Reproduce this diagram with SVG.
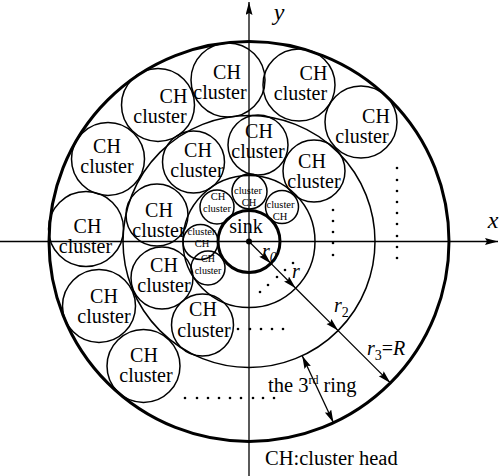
<svg xmlns="http://www.w3.org/2000/svg" width="500" height="476" viewBox="0 0 500 476">
<style>
.bg{fill:#fff}
.ring{fill:none;stroke:#000;stroke-width:1.5}
.thick{fill:none;stroke:#000;stroke-width:3}
.cl{fill:none;stroke:#000;stroke-width:1.5}
.ax{stroke:#000;stroke-width:1.3;fill:none}
.ln{stroke:#000;stroke-width:1.3;fill:none}
text{font-family:"Liberation Serif","Times New Roman",serif;fill:#000;text-anchor:middle}
.t{font-size:20px}
.s{font-size:10.5px}
.xs{font-size:10px}
.it{font-style:italic}
.dot{fill:#000}
</style>
<defs>
<marker id="ah" markerUnits="userSpaceOnUse" markerWidth="14" markerHeight="8" refX="13" refY="3.5" orient="auto-start-reverse">
<path d="M0,0 L13,3.5 L0,7 L2,3.5 z" fill="#000"/>
</marker>
</defs>
<rect class="bg" x="0" y="0" width="500" height="476"/>

<g id="rings">
<circle class="thick" cx="249" cy="241.5" r="200"/>
<circle class="ring" cx="249" cy="241.5" r="126"/>
<circle class="ring" cx="249" cy="241.5" r="66"/>
</g>

<g id="sink">
<circle class="thick" cx="249" cy="241.5" r="31"/>
<circle class="dot" cx="249" cy="241.5" r="3"/>
<text class="t" x="246" y="233">sink</text>
</g>

<g id="n1"><circle class="cl" cx="228" cy="80" r="37"/><text class="t" x="227" y="79">CH</text><text class="t" x="220" y="99">cluster</text></g>
<g id="n2"><circle class="cl" cx="299" cy="85" r="36"/><text class="t" x="313.5" y="80">CH</text><text class="t" x="300.5" y="100">cluster</text></g>
<g id="n3"><circle class="cl" cx="361" cy="122" r="36"/><text class="t" x="376" y="123">CH</text><text class="t" x="362" y="143">cluster</text></g>
<g id="n4"><circle class="cl" cx="158" cy="105" r="36.5"/><text class="t" x="173.5" y="103">CH</text><text class="t" x="160" y="123">cluster</text></g>
<g id="n5"><circle class="cl" cx="108" cy="159" r="36.5"/><text class="t" x="107" y="153">CH</text><text class="t" x="107" y="173">cluster</text></g>
<g id="n6"><circle class="cl" cx="86" cy="229" r="37.5"/><text class="t" x="87.5" y="233">CH</text><text class="t" x="85.5" y="253">cluster</text></g>
<g id="n7"><circle class="cl" cx="99" cy="306" r="36.5"/><text class="t" x="104" y="303">CH</text><text class="t" x="104" y="323">cluster</text></g>
<g id="n8"><circle class="cl" cx="143.5" cy="366" r="36.5"/><text class="t" x="144" y="362">CH</text><text class="t" x="146" y="382">cluster</text></g>

<g id="n9"><circle class="cl" cx="258" cy="145" r="30"/><text class="t" x="259" y="138">CH</text><text class="t" x="258" y="158">cluster</text></g>
<g id="n10"><circle class="cl" cx="314" cy="171" r="31"/><text class="t" x="312" y="168">CH</text><text class="t" x="314" y="188">cluster</text></g>
<g id="n11"><circle class="cl" cx="193.5" cy="162" r="31"/><text class="t" x="198" y="157">CH</text><text class="t" x="197" y="177">cluster</text></g>
<g id="n12"><circle class="cl" cx="157" cy="215" r="31"/><text class="t" x="159" y="217">CH</text><text class="t" x="159" y="237">cluster</text></g>
<g id="n13"><circle class="cl" cx="162" cy="278" r="31"/><text class="t" x="164" y="272">CH</text><text class="t" x="164" y="292">cluster</text></g>
<g id="n14"><circle class="cl" cx="202.5" cy="325" r="31"/><text class="t" x="203" y="316">CH</text><text class="t" x="204" y="337">cluster</text></g>

<g id="n15"><circle class="cl" cx="249.5" cy="191.5" r="17.5"/><text class="s" x="248" y="194">cluster</text><text class="s" x="249" y="206">CH</text></g>
<g id="n16"><circle class="cl" cx="282" cy="207" r="16.5"/><text class="s" x="280.5" y="208">cluster</text><text class="s" x="280" y="220">CH</text></g>
<g id="n17"><circle class="cl" cx="217" cy="207" r="17"/><text class="s" x="218" y="200">CH</text><text class="s" x="217" y="212">cluster</text></g>
<g id="n18"><circle class="cl" cx="200.5" cy="242" r="17.5"/><text class="s" x="201.5" y="235">cluster</text><text class="s" x="202" y="247">CH</text></g>
<g id="n19"><circle class="cl" cx="208" cy="268" r="17"/><text class="xs" x="208" y="262">CH</text><text class="xs" x="208" y="274">cluster</text></g>

<g id="dots">
<circle class="dot" cx="397" cy="168" r="1.3"/><circle class="dot" cx="397" cy="180" r="1.3"/><circle class="dot" cx="397" cy="191" r="1.3"/><circle class="dot" cx="397" cy="202" r="1.3"/><circle class="dot" cx="397" cy="213" r="1.3"/><circle class="dot" cx="397" cy="224" r="1.3"/><circle class="dot" cx="397" cy="236" r="1.3"/><circle class="dot" cx="397" cy="247" r="1.3"/><circle class="dot" cx="397" cy="258" r="1.3"/>
<circle class="dot" cx="333" cy="210" r="1.3"/><circle class="dot" cx="333" cy="221" r="1.3"/><circle class="dot" cx="333" cy="232" r="1.3"/><circle class="dot" cx="333" cy="243" r="1.3"/><circle class="dot" cx="333" cy="255" r="1.3"/>
<circle class="dot" cx="293" cy="263" r="1.3"/><circle class="dot" cx="285" cy="270" r="1.3"/><circle class="dot" cx="277" cy="277" r="1.3"/><circle class="dot" cx="268" cy="285" r="1.3"/><circle class="dot" cx="260" cy="292" r="1.3"/>
<circle class="dot" cx="238" cy="329" r="1.3"/><circle class="dot" cx="250" cy="329" r="1.3"/><circle class="dot" cx="261" cy="329" r="1.3"/><circle class="dot" cx="272" cy="329" r="1.3"/><circle class="dot" cx="283" cy="329" r="1.3"/>
<circle class="dot" cx="185" cy="398" r="1.3"/><circle class="dot" cx="197" cy="398" r="1.3"/><circle class="dot" cx="208" cy="398" r="1.3"/><circle class="dot" cx="219" cy="398" r="1.3"/><circle class="dot" cx="230" cy="398" r="1.3"/><circle class="dot" cx="241" cy="398" r="1.3"/><circle class="dot" cx="253" cy="398" r="1.3"/><circle class="dot" cx="263" cy="398" r="1.3"/><circle class="dot" cx="274" cy="398" r="1.3"/>
</g>

<g id="connectors">
<line class="ax" x1="249" y1="476" x2="249" y2="2" marker-end="url(#ah)"/>
<line class="ax" x1="0" y1="241.5" x2="498" y2="241.5" marker-end="url(#ah)"/>
<line class="ln" x1="249" y1="241.5" x2="270.9" y2="263.4" marker-end="url(#ah)"/>
<line class="ln" x1="270.9" y1="263.4" x2="295.7" y2="288.2" marker-end="url(#ah)"/>
<line class="ln" x1="295.7" y1="288.2" x2="338.1" y2="330.6" marker-end="url(#ah)"/>
<line class="ln" x1="338.1" y1="330.6" x2="390.4" y2="382.9" marker-end="url(#ah)"/>
<line class="ln" x1="302.2" y1="355.7" x2="333.5" y2="422.8" marker-start="url(#ah)" marker-end="url(#ah)"/>
</g>

<g id="labels">
<text class="it" style="font-size:24px" x="279" y="20">y</text>
<text class="it" style="font-size:24px" x="493" y="228">x</text>
<text class="it" style="font-size:20px;text-anchor:start" x="262" y="258">r<tspan style="font-size:14px" dy="4">0</tspan></text>
<text class="it" style="font-size:20px;text-anchor:start" x="292" y="278">r</text>
<text class="it" style="font-size:20px;text-anchor:start" x="334" y="312">r<tspan style="font-size:14px;font-style:normal" dy="5">2</tspan></text>
<text style="font-size:20px;text-anchor:start" x="367" y="355"><tspan class="it">r</tspan><tspan style="font-size:14px" dy="5">3</tspan><tspan dy="-5">=</tspan><tspan class="it">R</tspan></text>
<text style="font-size:20.5px;text-anchor:start" x="268" y="392">the 3<tspan style="font-size:12px" dy="-8">rd</tspan><tspan dy="8"> ring</tspan></text>
<text style="font-size:20.5px;text-anchor:start" x="265" y="465">CH:cluster head</text>
</g>
</svg>
